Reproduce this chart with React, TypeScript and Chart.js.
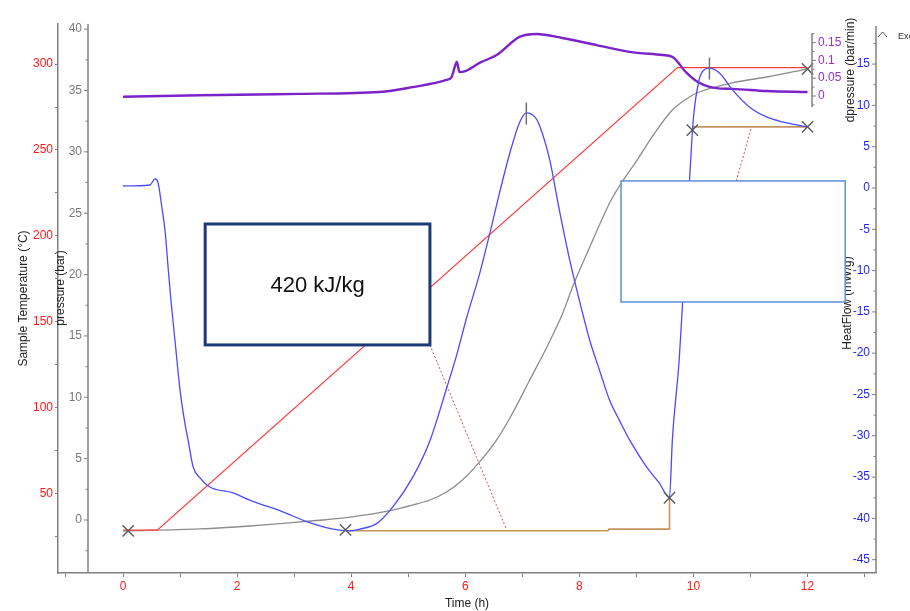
import React, { useEffect, useRef } from 'react';
import { Chart, registerables } from 'chart.js';
Chart.register(...registerables);

const FONT = '"Liberation Sans", Arial, sans-serif';

// ---- Sample temperature (°C) vs time (h)
const tempTime = [0, 0.6, 9.72, 12];
const tempVals = [28.5, 28.5, 298, 298];

// ---- Pressure (bar)
const pressTime = [0, 1.35, 2.22, 3.1, 3.98, 4.73, 5.08, 5.38, 5.67, 5.95, 6.25, 6.55, 6.83, 7.13, 7.43, 7.71, 7.88, 8.15, 8.56, 9.05, 9.33, 9.63, 9.93, 10.1, 10.68, 11.28, 12];
const pressVals = [-0.9, -0.73, -0.49, -0.16, 0.24, 0.81, 1.22, 1.63, 2.28, 3.26, 4.73, 6.52, 8.72, 11.41, 14.1, 16.87, 18.99, 21.9, 26.1, 29.6, 31.6, 33.41, 34.47, 34.88, 35.62, 36.1, 36.76];

// ---- HeatFlow
const heatTime = [0, 0.47, 0.56, 0.61, 0.68, 0.74, 0.79, 0.84, 0.91, 1.0, 1.09, 1.14, 1.23, 1.35, 1.52, 1.93, 2.22, 2.8, 3.22, 3.68, 3.98, 4.15, 4.45, 4.73, 5.08, 5.38, 5.67, 5.85, 6.02, 6.25, 6.43, 6.6, 6.78, 6.95, 7.07, 7.22, 7.3, 7.48, 7.65, 7.83, 8.0, 8.18, 8.35, 8.53, 8.7, 8.88, 9.18, 9.4, 9.58, 9.63, 9.75, 9.81, 9.93, 10.0, 10.1, 10.19, 10.28, 10.46, 10.68, 10.98, 11.28, 11.56, 12];
const heatVals = [0.24, 0.36, 1.09, 0.73, -2.3, -5.4, -9.6, -13.6, -18.4, -24.5, -28.7, -30.5, -33.8, -35.1, -36.2, -36.9, -37.8, -39.2, -40.4, -41.3, -41.5, -41.3, -40.6, -38.6, -35.0, -30.6, -24.3, -20.2, -15.8, -10.4, -5.5, -0.6, 4.2, 7.9, 9.1, 8.6, 7.6, 3.4, -2.7, -8.7, -13.6, -18.4, -22.0, -25.7, -28.1, -30.5, -33.8, -35.7, -37.5, -30.5, -20.8, -13.8, 0.85, 8.5, 13.1, 14.3, 14.5, 13.9, 11.9, 9.8, 8.6, 8.0, 7.4];

// ---- dpressure (bar/min)
const dpTime = [0, 1.35, 3.1, 4.5, 5.08, 5.67, 5.76, 5.82, 5.85, 5.9, 6.0, 6.25, 6.55, 6.95, 7.25, 7.7, 8.3, 8.88, 9.46, 9.63, 9.88, 10.1, 10.4, 10.68, 11.28, 12];
const dpVals = [-0.002, 0.002, 0.006, 0.011, 0.025, 0.045, 0.053, 0.084, 0.096, 0.067, 0.07, 0.093, 0.115, 0.166, 0.174, 0.163, 0.143, 0.124, 0.115, 0.11, 0.065, 0.037, 0.022, 0.02, 0.014, 0.011];

// ---- Integration baselines (HeatFlow units)
const base1Time = [3.95, 8.5, 8.52, 9.58, 9.58];
const base1Vals = [-41.5, -41.5, -41.3, -41.3, -37.5];
const base2Time = [9.98, 12];
const base2Vals = [7.4, 7.4];

// ---- Dotted pointers (HeatFlow units)
const ptr1Time = [5.38, 6.72];
const ptr1Vals = [-19.0, -41.3];
const ptr2Time = [10.75, 11.02];
const ptr2Vals = [0.85, 7.4];

// ---- Markers (HeatFlow units)
const crossTime = [0.09, 3.9, 9.58, 9.98, 12, 12];
const crossVals = [-41.5, -41.4, -37.5, 7.0, 7.4, 14.4];
const peakTime = [7.07, 10.28];
const peakVals = [9.0, 14.45];

// ---- Tick labels
const pressureTicks = [0, 5, 10, 15, 20, 25, 30, 35, 40];
const heatTicks = [-45, -40, -35, -30, -25, -20, -15, -10, -5, 0, 5, 10, 15];
const dpTicks = [0, 0.05, 0.1, 0.15];
const boxLabel = '420 kJ/kg';

const xy = (xs: number[], ys: number[]) => xs.map((x, i) => ({ x, y: ys[i] }));

function drawAxis(ctx: CanvasRenderingContext2D, scale: any, x: number, y0: number, y1: number, ticks: number[], dir: number, color: string) {
  ctx.strokeStyle = '#808080';
  ctx.lineWidth = 1.5;
  ctx.beginPath();
  ctx.moveTo(x, y0);
  ctx.lineTo(x, y1);
  ctx.stroke();
  ctx.lineWidth = 1;
  const step = ticks[1] - ticks[0];
  const minors: number[] = [];
  minors.push(ticks[0] - step / 2);
  for (let i = 0; i < ticks.length - 1; i++) minors.push((ticks[i] + ticks[i + 1]) / 2);
  minors.push(ticks[ticks.length - 1] + step / 2);
  const lo = Math.min(y0, y1), hi = Math.max(y0, y1);
  ctx.beginPath();
  for (const m of minors) {
    const y = scale.getPixelForValue(m);
    if (y < lo || y > hi) continue;
    ctx.moveTo(x, y);
    ctx.lineTo(x + dir * 2.5, y);
  }
  for (const t of ticks) {
    const y = scale.getPixelForValue(t);
    ctx.moveTo(x, y);
    ctx.lineTo(x + dir * 4, y);
  }
  ctx.stroke();
  ctx.fillStyle = color;
  ctx.font = `12px ${FONT}`;
  ctx.textAlign = dir < 0 ? 'right' : 'left';
  ctx.textBaseline = 'middle';
  for (const t of ticks) {
    const y = scale.getPixelForValue(t);
    ctx.fillText(String(t), x + dir * 6, y);
  }
}

function vText(ctx: CanvasRenderingContext2D, text: string, x: number, y: number) {
  ctx.save();
  ctx.translate(x, y);
  ctx.rotate(-Math.PI / 2);
  ctx.fillStyle = '#222';
  ctx.font = `12px ${FONT}`;
  ctx.textAlign = 'center';
  ctx.textBaseline = 'middle';
  ctx.fillText(text, 0, 0);
  ctx.restore();
}

export default function App() {
  const ref = useRef<HTMLCanvasElement>(null);
  useEffect(() => {
    document.body.style.margin = '0';
    const canvas = ref.current!;
    const overlay = {
      id: 'overlay',
      afterDatasetsDraw(chart: any) {
        const { ctx, chartArea: ca, scales } = chart;
        const sx = scales.x, sP = scales.yP, sH = scales.yH, sD = scales.yD;
        ctx.save();
        drawAxis(ctx, sP, 88, ca.top, ca.bottom, pressureTicks, -1, '#7a7a7a');
        drawAxis(ctx, sH, 876, ca.top + 2, ca.bottom, heatTicks, -1, '#1f1fff');
        drawAxis(ctx, sD, 812, sD.getPixelForValue(0.176), sD.getPixelForValue(-0.031), dpTicks, 1, '#9a2fd0');
        vText(ctx, 'pressure (bar)', 61, 288);
        vText(ctx, 'dpressure (bar/min)', 851, 70);
        vText(ctx, 'HeatFlow (mW/g)', 848, 303);

        // box 1 (annotation with value)
        const b1x0 = sx.getPixelForValue(1.44), b1x1 = sx.getPixelForValue(5.38);
        const b1y0 = sH.getPixelForValue(-4.36), b1y1 = sH.getPixelForValue(-19.0);
        ctx.fillStyle = '#ffffff';
        ctx.fillRect(b1x0, b1y0, b1x1 - b1x0, b1y1 - b1y0);
        ctx.strokeStyle = '#1b3a78';
        ctx.lineWidth = 3;
        ctx.strokeRect(b1x0, b1y0, b1x1 - b1x0, b1y1 - b1y0);
        ctx.fillStyle = '#111';
        ctx.font = `22px ${FONT}`;
        ctx.textAlign = 'center';
        ctx.textBaseline = 'middle';
        ctx.fillText(boxLabel, (b1x0 + b1x1) / 2, (b1y0 + b1y1) / 2 + 1);

        // box 2 (empty annotation)
        const b2x0 = sx.getPixelForValue(8.73), b2x1 = sx.getPixelForValue(12.66);
        const b2y0 = sH.getPixelForValue(0.85), b2y1 = sH.getPixelForValue(-13.8);
        ctx.fillStyle = '#ffffff';
        ctx.fillRect(b2x0, b2y0, b2x1 - b2x0, b2y1 - b2y0);
        ctx.strokeStyle = '#5b8fd9';
        ctx.lineWidth = 1.5;
        ctx.strokeRect(b2x0, b2y0, b2x1 - b2x0, b2y1 - b2y0);

        // Exo indicator
        ctx.strokeStyle = '#555';
        ctx.lineWidth = 1;
        ctx.beginPath();
        ctx.moveTo(878, 37);
        ctx.lineTo(882.5, 32);
        ctx.lineTo(887, 37);
        ctx.stroke();
        ctx.fillStyle = '#333';
        ctx.font = `9px ${FONT}`;
        ctx.textAlign = 'left';
        ctx.textBaseline = 'middle';
        ctx.fillText('Exo', 898, 37);
        ctx.restore();
      },
    };

    const lineDs = (label: string, data: any[], axis: string, color: string, width: number, extra: any = {}) => ({
      label, data, yAxisID: axis, showLine: true, borderColor: color, backgroundColor: color,
      borderWidth: width, pointRadius: 0, pointHoverRadius: 0, fill: false, ...extra,
    });

    const chart = new Chart(canvas, {
      type: 'scatter',
      data: {
        datasets: [
          { label: 'cross', data: xy(crossTime, crossVals), yAxisID: 'yH', showLine: false, pointStyle: 'crossRot', pointRadius: 8, borderColor: '#5a5a5a', borderWidth: 1.4, backgroundColor: '#5a5a5a' },
          { label: 'peak', data: xy(peakTime, peakVals), yAxisID: 'yH', showLine: false, pointStyle: 'line', pointRotation: 90, pointRadius: 11, borderColor: '#707070', borderWidth: 1.5, backgroundColor: '#707070' },
          lineDs('HeatFlow', xy(heatTime, heatVals), 'yH', '#4a4aff', 1.3, { cubicInterpolationMode: 'monotone' }),
          lineDs('dpressure', xy(dpTime, dpVals), 'yD', '#7b22c8', 2.4, { cubicInterpolationMode: 'monotone' }),
          lineDs('Sample Temperature', xy(tempTime, tempVals), 'yT', '#ff3b3b', 1.2),
          lineDs('pressure', xy(pressTime, pressVals), 'yP', '#8c8c8c', 1.3, { cubicInterpolationMode: 'monotone' }),
          lineDs('baseline1', xy(base1Time, base1Vals), 'yH', '#c4935f', 1.6),
          lineDs('baseline2', xy(base2Time, base2Vals), 'yH', '#c4935f', 1.6),
          lineDs('pointer1', xy(ptr1Time, ptr1Vals), 'yH', '#d05050', 1, { borderDash: [2, 2] }),
          lineDs('pointer2', xy(ptr2Time, ptr2Vals), 'yH', '#d05050', 1, { borderDash: [2, 2] }),
        ],
      },
      options: {
        responsive: false,
        animation: false,
        events: [],
        layout: { padding: { top: 24, right: 34, left: 0, bottom: 0 } },
        plugins: { legend: { display: false }, tooltip: { enabled: false } },
        scales: {
          x: {
            type: 'linear', position: 'bottom', min: -1.14, max: 13.2,
            afterFit: (s: any) => { s.height = 38; },
            border: { color: '#808080', width: 1.5 },
            grid: { drawOnChartArea: false, drawTicks: true, tickLength: 4, color: '#808080' },
            ticks: {
              stepSize: 1, includeBounds: false, autoSkip: false, maxRotation: 0, padding: 2,
              color: '#ff1a1a', font: { family: FONT, size: 12 },
              callback: (v: any) => (v >= 0 && v <= 12 && v % 2 === 0 ? String(v) : ''),
            },
            title: { display: true, text: 'Time (h)', color: '#222', font: { family: FONT, size: 12 }, padding: { top: 0, bottom: 0 } },
          },
          yT: {
            type: 'linear', position: 'left', min: 3.5, max: 323.4,
            afterFit: (s: any) => { s.width = 58; },
            border: { color: '#808080', width: 1.5 },
            grid: { drawOnChartArea: false, drawTicks: true, tickLength: 3, color: '#808080' },
            ticks: {
              stepSize: 25, includeBounds: false, autoSkip: false, padding: 2,
              color: '#ff1a1a', font: { family: FONT, size: 12 },
              callback: (v: any) => (v % 50 === 0 ? String(v) : ''),
            },
            title: { display: true, text: 'Sample Temperature (°C)', color: '#222', font: { family: FONT, size: 12 }, padding: { top: 16, bottom: 0 } },
          },
          yP: { type: 'linear', display: false, min: -4.32, max: 40.42 },
          yH: { type: 'linear', display: false, min: -46.61, max: 19.85 },
          yD: { type: 'linear', display: false, min: -1.3399, max: 0.2022 },
        },
      } as any,
      plugins: [overlay],
    } as any);
    return () => chart.destroy();
  }, []);
  return (
    <div style={{ position: 'fixed', left: 0, top: 0, width: 910, height: 611, background: '#fff' }}>
      <canvas ref={ref} width={910} height={611} style={{ display: 'block' }} />
    </div>
  );
}
